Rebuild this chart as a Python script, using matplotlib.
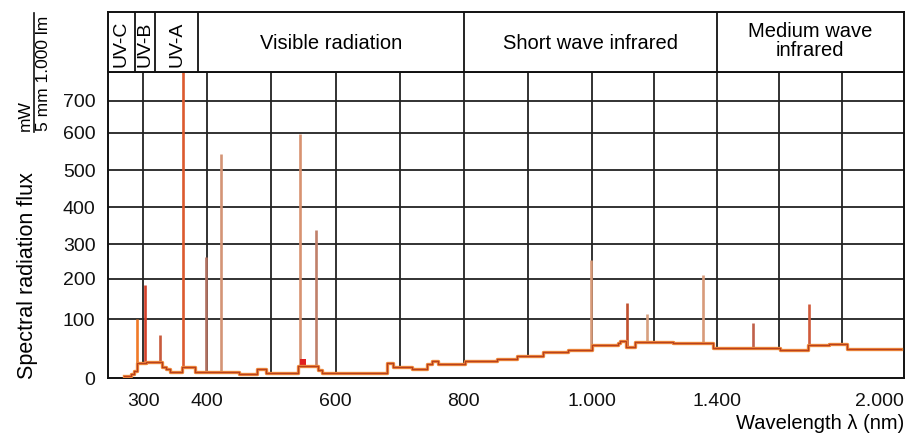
import numpy as np
import matplotlib
matplotlib.use('Agg')
import matplotlib.pyplot as plt
from matplotlib.lines import Line2D

plt.rcParams['font.family'] = ['Liberation Sans', 'DejaVu Sans']

# baseline of the spectrum: each step starts at step_nm and holds step_val
step_nm = [270, 281, 286, 291, 305, 330, 335, 342, 360, 380, 436, 450, 477, 492,
           542, 573, 579, 680, 690, 720, 743, 751, 760, 802, 852, 883, 924, 963,
           1000, 1083, 1090, 1108, 1138, 1260, 1388, 1603, 1692, 1760, 1817, 1990]
step_val = [3, 7, 12, 25, 27, 19, 15, 11, 19, 10, 11, 7, 16, 9,
            20, 13, 8, 25, 19, 15, 23, 29, 23, 29, 33, 38, 44, 47,
            56, 60, 62, 52, 61, 59, 51, 47, 56, 58, 49, 49]

# emission lines
line_nm = [291, 302, 326, 362, 398, 421, 545, 569, 999, 1113, 1178, 1356, 1516, 1697]
line_val = [101, 184, 73, 800, 263, 542, 596, 338, 253, 140, 112, 210, 94, 137]
line_col = ['#f07a28', '#d4402a', '#c85a3c', '#dc5a2e', '#b07060', '#d49476', '#d89270',
            '#c0806a', '#d89a78', '#c0502e', '#d8a080', '#d89a7a', '#c0604a', '#d05a3a']

# small red block near 546 nm
red_nm = [545, 554]
red_val = [20, 32]

# header bands
band_edges = [245, 287, 318, 386, 800, 1400, 2000]
band_names = ['UV-C', 'UV-B', 'UV-A', 'Visible radiation', 'Short wave infrared',
              'Medium wave\ninfrared']

xticks = [300, 400, 600, 800, 1000, 1400, 2000]
xtick_labels = ['300', '400', '600', '800', '1.000', '1.400', '2.000']
xgrid = [300, 400, 500, 600, 700, 800, 900, 1000, 1200, 1400, 1600, 1800]
yticks = [0, 100, 200, 300, 400, 500, 600, 700]

# piecewise-linear axes as drawn in the original
x_k = [-5000, 1000, 10000]
x_u = [-5000, 1000, 1000 + 9000 * 0.487]
y_k = [-1000, 0, 100, 200, 300, 400, 500, 600, 700, 3000]
y_u = [-590, 0, 59, 99.5, 134, 171, 208, 245.3, 277.3, 1013]


def fx(v):
    return np.interp(v, x_k, x_u)


def ifx(u):
    return np.interp(u, x_u, x_k)


def fy(v):
    return np.interp(v, y_k, y_u)


def ify(u):
    return np.interp(u, y_u, y_k)


fig = plt.figure(figsize=(9.16, 4.48), dpi=100)
L, R = 108 / 916, 904 / 916
ax = fig.add_axes([L, 70 / 448, R - L, 306 / 448])
ax.set_xscale('function', functions=(fx, ifx))
ax.set_yscale('function', functions=(fy, ify))
ax.set_xlim(245, 2000)
ax.set_ylim(0, 790)

gc = '#222222'
for g in xgrid:
    ax.axvline(g, color=gc, lw=1.3, zorder=1)
for g in yticks[1:]:
    ax.axhline(g, color=gc, lw=1.3, zorder=1)

# white under the curve hides the grid
ax.fill_between(step_nm, 0, step_val, step='post', color='white', zorder=2, lw=0)

sn = np.array(step_nm)
sv = np.array(step_val)
for nm, v, c in zip(line_nm, line_val, line_col):
    base = sv[np.searchsorted(sn, nm, side='right') - 1]
    ax.vlines(nm, base, v, color=c, lw=1.9, zorder=3)

ax.fill_between(red_nm, red_val[0], red_val[1], color='#e02020', lw=0, zorder=4)
ax.plot(step_nm, step_val, drawstyle='steps-post', color='#ee8a3c', lw=2.4, zorder=4)
ax.plot(step_nm, step_val, drawstyle='steps-post', color='#b8401e', lw=0.9, zorder=5)

ax.set_xticks(xticks)
ax.set_xticklabels(xtick_labels)
ax.set_yticks(yticks)
ax.minorticks_off()
ax.tick_params(axis='both', length=0, labelsize=14, colors='#111111')
ax.tick_params(axis='x', pad=11)
ax.tick_params(axis='y', pad=9)
ax.get_xticklabels()[-1].set_ha('right')
for s in ax.spines.values():
    s.set_color('#111111')
    s.set_linewidth(1.4)

# header band
hx = fig.add_axes([L, 376 / 448, R - L, 60 / 448], sharex=ax)
hx.set_ylim(0, 1)
hx.tick_params(axis='both', length=0, labelbottom=False, labelleft=False)
for s in hx.spines.values():
    s.set_color('#111111')
    s.set_linewidth(1.4)
for e in band_edges[1:-1]:
    hx.axvline(e, color='#111111', lw=1.3)
for i, name in enumerate(band_names):
    c = ifx((fx(band_edges[i]) + fx(band_edges[i + 1])) / 2)
    if i < 3:
        hx.text(c, 0.08, name, rotation=90, ha='center', va='bottom', fontsize=14)
    elif '\n' in name:
        top, bot = name.split('\n')
        hx.text(c, 0.67, top, ha='center', va='center', fontsize=14.5)
        hx.text(c, 0.36, bot, ha='center', va='center', fontsize=14.5)
    else:
        hx.text(c, 0.48, name, ha='center', va='center', fontsize=14.5)

# axis labels
fig.text(28 / 916, 1 - 276 / 448, 'Spectral radiation flux', rotation=90,
         ha='center', va='center', fontsize=15.5)
fig.text(25 / 916, 1 - 131 / 448, 'mW', rotation=90, ha='center', va='bottom', fontsize=12.5)
fig.text(43 / 916, 1 - 131 / 448, '5 mm 1.000 lm', rotation=90, ha='center', va='bottom',
         fontsize=12.5)
fig.add_artist(Line2D([34 / 916, 34 / 916], [1 - 132 / 448, 1 - 13 / 448],
                      color='#111111', lw=1.2, transform=fig.transFigure))
fig.text(R, 1 - 423 / 448, 'Wavelength λ (nm)', ha='right', va='center', fontsize=14.5)

fig.savefig('out.png', dpi=100)
